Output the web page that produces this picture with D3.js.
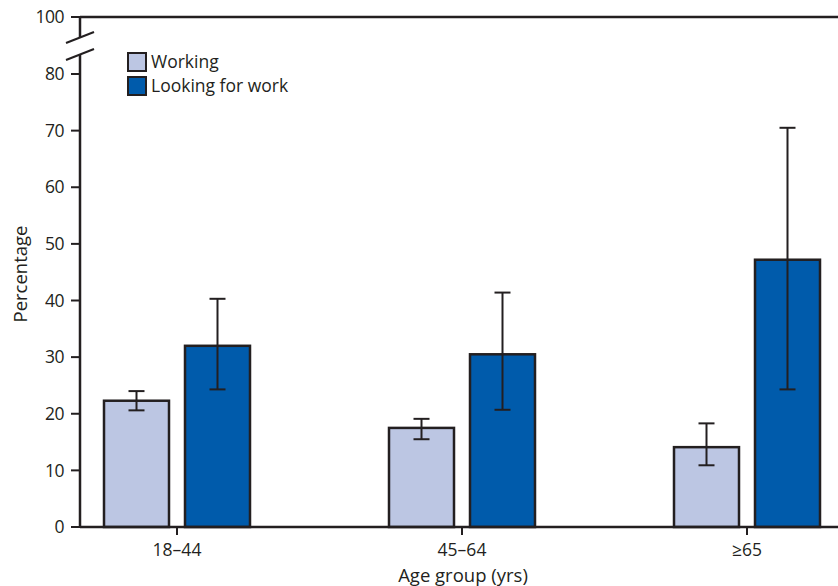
<!DOCTYPE html>
<html>
<head>
<meta charset="utf-8">
<script src="https://cdn.jsdelivr.net/npm/d3@7"></script>
<style>
  body { margin: 0; background: #fff; }
  svg text { font-family: "Open Sans", "Noto Sans", sans-serif; fill: #231f20; }
</style>
</head>
<body>
<svg class="chart" width="838" height="586"></svg>
<script>
// data
var categories = ["18\u201344", "45\u201364", "\u226565"];
var seriesNames = ["Working", "Looking for work"];
var working = [22.3, 17.5, 14.1];
var workingLow = [20.6, 15.5, 10.9];
var workingHigh = [24.0, 19.1, 18.3];
var looking = [32.0, 30.5, 47.2];
var lookingLow = [24.3, 20.7, 24.3];
var lookingHigh = [40.3, 41.4, 70.5];
var yTicks = [0, 10, 20, 30, 40, 50, 60, 70, 80];
var yTopLabel = 100;

var color = ["#bcc6e3", "#005bab"];
var ink = "#231f20";

var svg = d3.select(".chart");
var left = 80, bottom = 527, plotTop = 17, right = 838;

// broken axis: 0-80 linear, then a squeezed gap up to 100
var y = d3.scaleLinear().domain([0, 80, 100]).range([bottom, 74, plotTop]);
var x = d3.scalePoint().domain(categories).range([177, 747]);

var data = [];
categories.forEach(function (c, i) {
    data.push({cat: c, s: 0, v: working[i], lo: workingLow[i], hi: workingHigh[i]});
    data.push({cat: c, s: 1, v: looking[i], lo: lookingLow[i], hi: lookingHigh[i]});
});

var barW = 65, gap = 16;
function barX(d) {
    return d.s == 0 ? x(d.cat) - gap / 2 - barW : x(d.cat) + gap / 2;
}

// bars
svg.selectAll("rect.bar")
    .data(data)
    .enter()
    .append("rect")
    .attr("class", "bar")
    .attr("x", barX)
    .attr("y", function (d) { return y(d.v); })
    .attr("width", barW)
    .attr("height", function (d) { return y(0) - y(d.v); })
    .attr("fill", function (d) { return color[d.s]; })
    .attr("stroke", ink)
    .attr("stroke-width", 2.5);

// error bars
var eb = svg.selectAll("g.err")
    .data(data)
    .enter()
    .append("g")
    .attr("class", "err")
    .attr("stroke", ink)
    .attr("stroke-width", 2);
eb.append("line")
    .attr("x1", function (d) { return barX(d) + barW / 2; })
    .attr("x2", function (d) { return barX(d) + barW / 2; })
    .attr("y1", function (d) { return y(d.lo); })
    .attr("y2", function (d) { return y(d.hi); });
eb.selectAll("line.cap")
    .data(function (d) { return [{d: d, v: d.lo}, {d: d, v: d.hi}]; })
    .enter()
    .append("line")
    .attr("class", "cap")
    .attr("x1", function (c) { return barX(c.d) + barW / 2 - 8; })
    .attr("x2", function (c) { return barX(c.d) + barW / 2 + 8; })
    .attr("y1", function (c) { return y(c.v); })
    .attr("y2", function (c) { return y(c.v); });

// frame lines
svg.append("line")
    .attr("x1", left).attr("x2", right)
    .attr("y1", bottom).attr("y2", bottom)
    .attr("stroke", ink).attr("stroke-width", 2.5);
svg.append("line")
    .attr("x1", left).attr("x2", right)
    .attr("y1", plotTop).attr("y2", plotTop)
    .attr("stroke", ink).attr("stroke-width", 2.5);

// y axis with break
svg.append("line")
    .attr("x1", left).attr("x2", left)
    .attr("y1", plotTop).attr("y2", 37)
    .attr("stroke", ink).attr("stroke-width", 2.5);
svg.append("line")
    .attr("x1", left).attr("x2", left)
    .attr("y1", 54).attr("y2", bottom)
    .attr("stroke", ink).attr("stroke-width", 2.5);
[0, 17].forEach(function (off) {
    svg.append("line")
        .attr("x1", 66).attr("y1", 43 + off)
        .attr("x2", 94).attr("y2", 32 + off)
        .attr("stroke", ink).attr("stroke-width", 2);
});

var yLabels = yTicks.concat([yTopLabel]);
var yt = svg.selectAll("g.ytick")
    .data(yLabels)
    .enter()
    .append("g")
    .attr("class", "ytick")
    .attr("transform", function (d) { return "translate(0," + y(d) + ")"; });
yt.append("line")
    .attr("x1", 71).attr("x2", left)
    .attr("stroke", ink).attr("stroke-width", 2);
yt.append("text")
    .attr("x", 64)
    .attr("dy", "0.35em")
    .attr("text-anchor", "end")
    .attr("font-size", 17.5)
    .attr("letter-spacing", -0.5)
    .text(function (d) { return d; });

// x ticks
var xt = svg.selectAll("g.xtick")
    .data(categories)
    .enter()
    .append("g")
    .attr("class", "xtick")
    .attr("transform", function (d) { return "translate(" + x(d) + ",0)"; });
xt.append("line")
    .attr("y1", bottom).attr("y2", bottom + 8)
    .attr("stroke", ink).attr("stroke-width", 2);
xt.append("text")
    .attr("y", 556)
    .attr("text-anchor", "middle")
    .attr("font-size", 17.5)
    .text(function (d) { return d; });

// axis titles
svg.append("text")
    .attr("x", 463).attr("y", 582)
    .attr("text-anchor", "middle")
    .attr("font-size", 18.5)
    .text("Age group (yrs)");
svg.append("text")
    .attr("transform", "translate(27,274) rotate(-90)")
    .attr("text-anchor", "middle")
    .attr("font-size", 18.5)
    .text("Percentage");

// legend
var lg = svg.selectAll("g.legend")
    .data(seriesNames)
    .enter()
    .append("g")
    .attr("class", "legend")
    .attr("transform", function (d, i) { return "translate(128," + (53 + i * 24) + ")"; });
lg.append("rect")
    .attr("width", 18).attr("height", 18)
    .attr("fill", function (d, i) { return color[i]; })
    .attr("stroke", ink).attr("stroke-width", 2);
lg.append("text")
    .attr("x", 23).attr("y", 15)
    .attr("font-size", 17.5)
    .text(function (d) { return d; });
</script>
</body>
</html>
